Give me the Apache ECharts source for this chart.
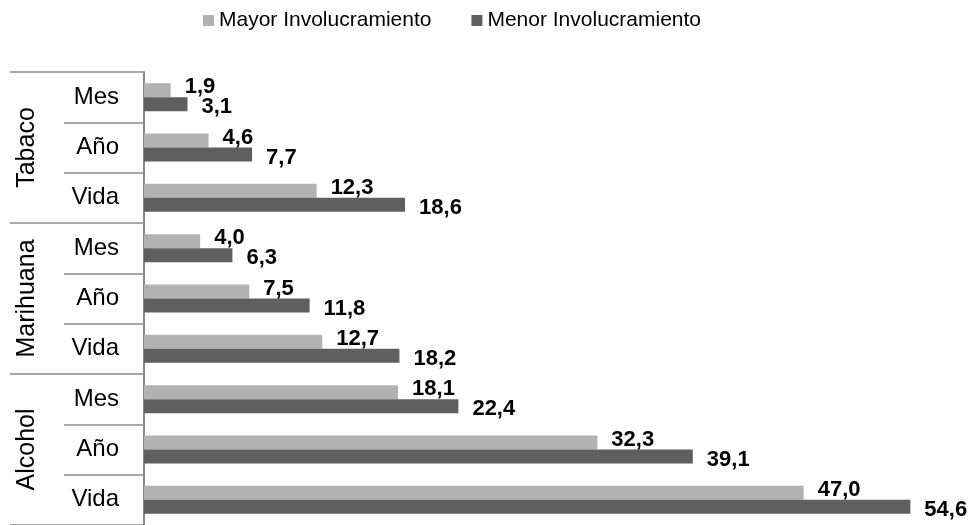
<!DOCTYPE html>
<html>
<head>
<meta charset="utf-8">
<script src="https://cdn.jsdelivr.net/npm/echarts@6/dist/echarts.min.js"></script>
<style>
  html, body { margin: 0; padding: 0; background: #fff; }
  #chart { width: 975px; height: 525px; }
</style>
</head>
<body>
<div id="chart"></div>
<script>
const groups = ['Tabaco', 'Marihuana', 'Alcohol']
const periods = ['Mes', 'Año', 'Vida', 'Mes', 'Año', 'Vida', 'Mes', 'Año', 'Vida']
const mayor = [1.9, 4.6, 12.3, 4.0, 7.5, 12.7, 18.1, 32.3, 47.0]
const menor = [3.1, 7.7, 18.6, 6.3, 11.8, 18.2, 22.4, 39.1, 54.6]
const seriesNames = ['Mayor Involucramiento', 'Menor Involucramiento']

const font = 'Liberation Sans, Arial, sans-serif'
const chart = echarts.init(document.getElementById('chart'))

const fmt = (p) => p.value.toFixed(1).replace('.', ',')

const labelStyle = (dy) => ({
  show: true,
  position: 'right',
  distance: 14,
  offset: [0, dy],
  formatter: fmt,
  fontSize: 22,
  fontWeight: 'bold',
  color: '#000',
  fontFamily: font,
})

chart.setOption({
  animation: false,
  textStyle: { fontFamily: font },
  legend: {
    left: 198,
    top: 5,
    itemWidth: 11,
    itemHeight: 11,
    itemGap: 40,
    icon: 'rect',
    textStyle: { fontSize: 21, color: '#000', fontFamily: font },
    data: seriesNames,
  },
  grid: { left: 144, top: 72, height: 456, right: 45 },
  xAxis: { type: 'value', min: 0, max: 56, show: false },
  yAxis: [
    {
      type: 'category',
      inverse: true,
      data: periods,
      axisLine: { show: true, lineStyle: { color: '#8a8a8a', width: 2 } },
      axisTick: { show: true, length: 80, lineStyle: { color: '#8a8a8a', width: 1.5 } },
      axisLabel: { interval: 0, fontSize: 24, color: '#000', margin: 25, fontFamily: font },
    },
    {
      type: 'category',
      inverse: true,
      position: 'left',
      data: groups,
      axisLine: { show: false },
      axisTick: { show: true, interval: 0, length: 134, lineStyle: { color: '#8a8a8a', width: 1.5 } },
      axisLabel: { interval: 0, hideOverlap: false, fontSize: 25, color: '#000', rotate: 90, margin: 104, fontFamily: font },
    },
  ],
  series: [
    {
      name: seriesNames[0],
      type: 'bar',
      data: mayor,
      barWidth: 14,
      barGap: '0%',
      itemStyle: { color: '#b2b2b2' },
      label: labelStyle(-3),
    },
    {
      name: seriesNames[1],
      type: 'bar',
      data: menor,
      barWidth: 14,
      barGap: '0%',
      itemStyle: { color: '#5f5f5f' },
      label: labelStyle(3),
    },
  ],
})
</script>
</body>
</html>
